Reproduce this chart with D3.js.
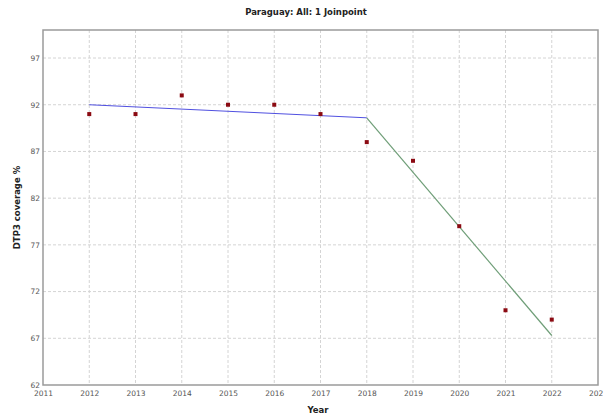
<!DOCTYPE html>
<html><head><meta charset="utf-8">
<script src="https://cdn.jsdelivr.net/npm/d3@7"></script>
<style>body{margin:0;background:#fff;} svg{display:block;}</style>
</head><body>
<script>
const title = "Paraguay: All: 1 Joinpoint";
const xLabel = "Year";
const yLabel = "DTP3 coverage %";
const years = [2012, 2013, 2014, 2015, 2016, 2017, 2018, 2019, 2020, 2021, 2022];
const observed = [91, 91, 93, 92, 92, 91, 88, 86, 79, 70, 69];
const seg1Years = [2012, 2018];
const seg1Values = [92.0, 90.6];
const seg2Years = [2018, 2022];
const seg2Values = [90.6, 67.3];
const xTicks = [2011,2012,2013,2014,2015,2016,2017,2018,2019,2020,2021,2022,2023];
const yTicks = [62, 67, 72, 77, 82, 87, 92, 97];

const W = 603, H = 420;
const m = {left: 43, right: 5, top: 30, bottom: 35};
const svg = d3.select("body").append("svg").attr("width", W).attr("height", H);
const x = d3.scaleLinear().domain([2011, 2023]).range([m.left, W - m.right]);
const y = d3.scaleLinear().domain([62, 100]).range([H - m.bottom, m.top]);
const font = "DejaVu Sans, Verdana, sans-serif";

// grid
svg.append("g").selectAll("line").data(xTicks.slice(1, -1)).join("line")
  .attr("x1", d => x(d)).attr("x2", d => x(d)).attr("y1", y(100)).attr("y2", y(62))
  .attr("stroke", "#d4d4d4").attr("stroke-dasharray", "3,2").attr("stroke-width", 1);
svg.append("g").selectAll("line").data(yTicks.slice(1)).join("line")
  .attr("x1", x(2011)).attr("x2", x(2023)).attr("y1", d => y(d)).attr("y2", d => y(d))
  .attr("stroke", "#d4d4d4").attr("stroke-dasharray", "3,2").attr("stroke-width", 1);

// frame
svg.append("rect").attr("x", x(2011)).attr("y", y(100))
  .attr("width", x(2023) - x(2011)).attr("height", y(62) - y(100))
  .attr("fill", "none").attr("stroke", "#9a9a9a").attr("stroke-width", 1.5);

// axes
const xAxis = d3.axisBottom(x).tickValues(xTicks).tickFormat(d3.format("d")).tickSize(0).tickPadding(6);
const gx = svg.append("g").attr("transform", `translate(0,${y(62)})`).call(xAxis);
gx.select(".domain").remove();
gx.selectAll("text").attr("fill", "#555").style("font-family", font).style("font-size", "7.5px");
const yAxis = d3.axisLeft(y).tickValues(yTicks).tickFormat(d3.format("d")).tickSize(0).tickPadding(3);
const gy = svg.append("g").attr("transform", `translate(${x(2011)},0)`).call(yAxis);
gy.select(".domain").remove();
gy.selectAll("text").attr("fill", "#555").style("font-family", font).style("font-size", "7.5px");

// fitted segments
const line = d3.line().x(d => x(d[0])).y(d => y(d[1]));
svg.append("path").datum(seg1Years.map((d, i) => [d, seg1Values[i]]))
  .attr("d", line).attr("fill", "none").attr("stroke", "#5050e0").attr("stroke-width", 1);
svg.append("path").datum(seg2Years.map((d, i) => [d, seg2Values[i]]))
  .attr("d", line).attr("fill", "none").attr("stroke", "#6f9e78").attr("stroke-width", 1.2);

// observed points
svg.append("g").selectAll("rect").data(years.map((d, i) => [d, observed[i]])).join("rect")
  .attr("x", d => x(d[0]) - 2).attr("y", d => y(d[1]) - 2)
  .attr("width", 4).attr("height", 4).attr("fill", "#8b0a12");

// titles
svg.append("text").attr("x", 306).attr("y", 15).attr("text-anchor", "middle")
  .style("font-family", font).style("font-size", "8.5px").style("font-weight", "bold").attr("fill", "#222").text(title);
svg.append("text").attr("x", 318).attr("y", 413).attr("text-anchor", "middle")
  .style("font-family", font).style("font-size", "8.5px").style("font-weight", "bold").attr("fill", "#222").text(xLabel);
svg.append("text").attr("transform", `translate(20,${(y(62)+y(100))/2}) rotate(-90)`).attr("text-anchor", "middle")
  .style("font-family", font).style("font-size", "8.5px").style("font-weight", "bold").attr("fill", "#222").text(yLabel);
</script>
</body></html>
